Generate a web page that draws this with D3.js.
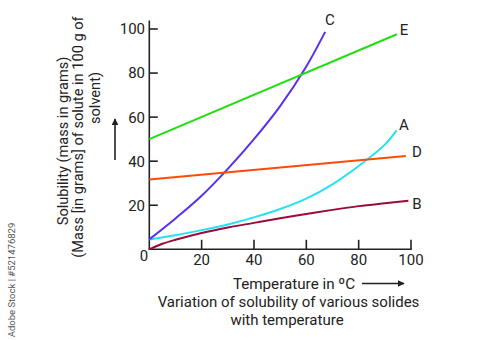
<!DOCTYPE html>
<html>
<head>
<meta charset="utf-8">
<script src="https://cdn.jsdelivr.net/npm/d3@7"></script>
<style>
  html, body { margin: 0; padding: 0; background: #fff; }
  svg text { font-family: Roboto, "Noto Sans", sans-serif; fill: #222; }
</style>
</head>
<body>
<svg id="chart" width="500" height="340"></svg>
<script>
// ---- data ----
const xTicks = [20, 40, 60, 80, 100];
const yTicks = [20, 40, 60, 80, 100];

const tempA = [0, 10, 20, 30, 40, 50, 60, 70, 80, 90, 94.5];
const solA  = [4.5, 6.4, 8.7, 11.3, 14.5, 18.3, 23, 29.5, 37.8, 47.5, 54];

const tempB = [0, 5, 10, 20, 30, 40, 50, 60, 70, 80, 90, 99];
const solB  = [0, 2.5, 4.3, 7.4, 9.9, 12, 14.1, 16, 17.9, 19.6, 20.9, 22];

const tempC = [0, 10, 20, 30, 40, 50, 60, 67.2];
const solC  = [4.5, 14, 24.3, 36.5, 50, 65, 83, 98.7];

const tempD = [0, 98];
const solD  = [31.7, 42.3];

const tempE = [0, 94.6];
const solE  = [50, 97.6];

const seriesNames = ["A", "B", "C", "D", "E"];
const seriesColors = { A: "#22e2f4", B: "#9a0a3c", C: "#5a2ff0", D: "#ff4a0a", E: "#22dd11" };
const seriesData = {
  A: [tempA, solA], B: [tempB, solB], C: [tempC, solC], D: [tempD, solD], E: [tempE, solE]
};

// ---- chart ----
const svg = d3.select("#chart");
const x = d3.scaleLinear().domain([0, 100]).range([149.3, 411]);
const y = d3.scaleLinear().domain([0, 100]).range([249.3, 29]);

// axes lines
svg.append("line").attr("x1", x(0)).attr("x2", x(0)).attr("y1", 20.5).attr("y2", y(0))
  .attr("stroke", "#222").attr("stroke-width", 1.6);
svg.append("line").attr("x1", x(0) - 0.8).attr("x2", x(100) + 0.8).attr("y1", y(0)).attr("y2", y(0))
  .attr("stroke", "#222").attr("stroke-width", 1.6);

// y ticks (inward)
svg.selectAll(".yt").data(yTicks).enter().append("line")
  .attr("x1", x(0)).attr("x2", x(0) + 8.5)
  .attr("y1", d => y(d)).attr("y2", d => y(d))
  .attr("stroke", "#222").attr("stroke-width", 1.6);
svg.selectAll(".yl").data(yTicks).enter().append("text")
  .attr("x", 145).attr("y", d => y(d)).attr("dy", "0.36em")
  .attr("text-anchor", "end").attr("font-size", 15).text(d => d);

// x ticks (inward)
svg.selectAll(".xt").data(xTicks).enter().append("line")
  .attr("x1", d => x(d)).attr("x2", d => x(d))
  .attr("y1", y(0)).attr("y2", y(0) - 9.5)
  .attr("stroke", "#222").attr("stroke-width", 1.6);
svg.selectAll(".xl").data(xTicks).enter().append("text")
  .attr("x", d => x(d)).attr("y", 264.5)
  .attr("text-anchor", "middle").attr("font-size", 15).text(d => d);
svg.append("text").attr("x", 144).attr("y", 261).attr("text-anchor", "middle")
  .attr("font-size", 15).text("0");

// curves
const line = d3.line().x(d => x(d[0])).y(d => y(d[1])).curve(d3.curveCatmullRom.alpha(0.5));
seriesNames.forEach(name => {
  const [xs, ys] = seriesData[name];
  const pts = xs.map((v, i) => [v, ys[i]]);
  svg.append("path").datum(pts).attr("d", line)
    .attr("fill", "none").attr("stroke", seriesColors[name]).attr("stroke-width", 2);
});

// curve labels
const labelPos = { C: [330, 20], E: [404, 30], A: [404, 125], D: [417, 152], B: [417, 204] };
seriesNames.forEach(name => {
  svg.append("text").attr("x", labelPos[name][0]).attr("y", labelPos[name][1])
    .attr("dy", "0.36em").attr("text-anchor", "middle").attr("font-size", 15).text(name);
});

// arrow marker
const defs = svg.append("defs");
defs.append("marker").attr("id", "arr").attr("viewBox", "0 0 10 10")
  .attr("refX", 9).attr("refY", 5).attr("markerWidth", 7).attr("markerHeight", 7)
  .attr("markerUnits", "userSpaceOnUse").attr("orient", "auto")
  .append("path").attr("d", "M0,0 L10,5 L0,10 Z").attr("fill", "#222");

// x title + arrow
svg.append("text").attr("x", 294).attr("y", 288.5).attr("text-anchor", "middle")
  .attr("font-size", 15.2).text("Temperature in ºC");
svg.append("line").attr("x1", 362).attr("x2", 404).attr("y1", 283.5).attr("y2", 283.5)
  .attr("stroke", "#222").attr("stroke-width", 1.6).attr("marker-end", "url(#arr)");

// caption
svg.append("text").attr("x", 288.5).attr("y", 307).attr("text-anchor", "middle")
  .attr("font-size", 15).text("Variation of solubility of various solides");
svg.append("text").attr("x", 287).attr("y", 324.5).attr("text-anchor", "middle")
  .attr("font-size", 15).text("with temperature");

// y title (rotated)
const yTitle = [
  ["Solubility (mass in grams)", 68, 141],
  ["(Mass [in grams] of solute in 100 g of", 83, 137],
  ["solvent)", 100, 98]
];
yTitle.forEach(([t, cx, cy]) => {
  svg.append("text").attr("transform", `translate(${cx},${cy}) rotate(-90)`)
    .attr("text-anchor", "middle").attr("font-size", 14.6).text(t);
});
svg.append("line").attr("x1", 115).attr("x2", 115).attr("y1", 160).attr("y2", 119)
  .attr("stroke", "#222").attr("stroke-width", 1.6).attr("marker-end", "url(#arr)");

// side credit text
svg.append("text").attr("transform", "translate(15,280) rotate(-90)")
  .attr("text-anchor", "middle").attr("font-size", 9.5).style("fill", "#555")
  .text("Adobe Stock | #521476829");
</script>
</body>
</html>
